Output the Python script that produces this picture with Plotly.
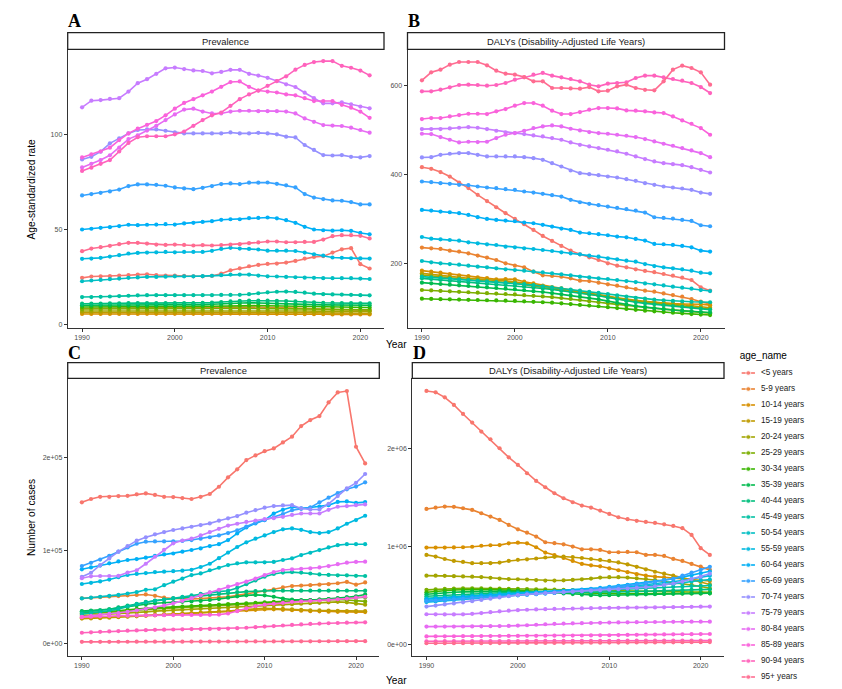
import plotly.graph_objects as go

years = list(range(1990, 2022))
age_names = ["<5 years", "5-9 years", "10-14 years", "15-19 years", "20-24 years",
             "25-29 years", "30-34 years", "35-39 years", "40-44 years", "45-49 years",
             "50-54 years", "55-59 years", "60-64 years", "65-69 years", "70-74 years",
             "75-79 years", "80-84 years", "85-89 years", "90-94 years", "95+ years"]
age_colors = ["#F8766D", "#EA8331", "#D89000", "#C09B00", "#A3A500", "#7CAE00", "#39B600",
              "#00BB4E", "#00BF7D", "#00C1A3", "#00BFC4", "#00BAE0", "#00B0F6", "#35A2FF",
              "#9590FF", "#C77CFF", "#E76BF3", "#FA62DB", "#FF62BC", "#FF6C91"]
strip_titles = ["Prevalence", "DALYs (Disability-Adjusted Life Years)",
                "Prevalence", "DALYs (Disability-Adjusted Life Years)"]
panel_letters = ["A", "B", "C", "D"]
x_ticks = [1990, 2000, 2010, 2020]
a_ticks = [0, 50, 100]
a_ticktext = ["0", "50", "100"]
b_ticks = [200, 400, 600]
b_ticktext = ["200", "400", "600"]
c_ticks = [0, 100000, 200000]
c_ticktext = ["0e+00", "1e+05", "2e+05"]
d_ticks = [0, 1000000, 2000000]
d_ticktext = ["0e+00", "1e+06", "2e+06"]

# ---------- Panel A: prevalence, age-standardized rate ----------
a_lt5 = [24.6,25.3,25.4,25.5,25.8,26.0,26.3,26.5,26.1,25.8,25.8,25.6,25.4,25.4,25.6,26.8,28.6,29.6,30.7,31.4,31.9,32.1,32.6,33.5,34.7,35.6,36.0,37.9,39.6,40.2,31.8,29.5]
a_5 = [8.5,8.6,8.6,8.7,8.7,8.8,8.8,8.9,8.9,8.9,9.0,9.0,9.0,9.0,9.1,9.1,9.2,9.2,9.3,9.3,9.2,9.0,8.8,8.6,8.4,8.2,8.0,7.9,7.8,7.7,7.6,7.5]
a_10 = [5.6,5.6,5.6,5.6,5.6,5.6,5.6,5.7,5.7,5.7,5.7,5.7,5.7,5.7,5.7,5.7,5.8,5.8,5.8,5.8,5.7,5.7,5.6,5.6,5.5,5.5,5.5,5.4,5.4,5.4,5.4,5.4]
a_15 = [6.4,6.4,6.4,6.4,6.4,6.5,6.5,6.5,6.5,6.5,6.5,6.5,6.5,6.5,6.5,6.5,6.6,6.6,6.6,6.6,6.5,6.5,6.4,6.4,6.3,6.2,6.2,6.1,6.1,6.0,6.0,6.0]
a_20 = [7.2,7.2,7.2,7.2,7.3,7.3,7.3,7.3,7.3,7.3,7.3,7.3,7.3,7.3,7.4,7.4,7.5,7.5,7.5,7.5,7.4,7.4,7.3,7.3,7.2,7.1,7.1,7.1,7.0,7.0,7.0,7.0]
a_25 = [8.2,8.2,8.2,8.2,8.3,8.3,8.3,8.3,8.3,8.3,8.3,8.4,8.4,8.4,8.5,8.5,8.6,8.6,8.6,8.6,8.5,8.5,8.4,8.3,8.2,8.1,8.0,8.0,7.9,7.9,7.8,7.8]
a_30 = [9.3,9.3,9.3,9.3,9.4,9.4,9.4,9.4,9.4,9.4,9.5,9.5,9.5,9.6,9.7,9.8,10.0,10.1,10.1,10.0,9.9,9.8,9.6,9.5,9.4,9.3,9.2,9.2,9.1,9.1,9.0,9.0]
a_35 = [10.2,10.2,10.2,10.2,10.3,10.3,10.3,10.3,10.3,10.3,10.3,10.3,10.4,10.5,10.7,10.9,11.2,11.5,11.5,11.4,11.2,11.0,10.8,10.7,10.6,10.5,10.4,10.4,10.3,10.3,10.2,10.2]
a_40 = [11.0,11.1,11.1,11.2,11.2,11.3,11.3,11.3,11.3,11.3,11.3,11.3,11.3,11.4,11.6,11.9,12.2,12.5,12.6,12.6,12.6,12.5,12.4,12.2,11.9,11.7,11.5,11.4,11.3,11.3,11.2,11.2]
a_45 = [14.5,14.5,14.6,14.8,15.0,15.2,15.4,15.5,15.5,15.5,15.5,15.5,15.5,15.5,15.5,15.6,15.6,15.7,16.0,16.5,17.0,17.3,17.4,17.2,16.8,16.3,16.0,15.9,15.8,15.7,15.5,15.4]
a_50 = [22.8,23.2,23.5,23.9,24.2,24.6,24.8,25.1,25.1,25.2,25.4,25.4,25.4,25.5,25.7,26.0,26.3,26.3,26.3,25.8,25.4,25.3,25.1,24.9,24.7,24.6,24.4,24.4,24.4,24.4,24.2,24.0]
a_55 = [34.6,34.7,35.1,35.8,36.5,37.4,37.7,37.9,38.0,38.2,38.0,38.2,38.2,38.2,38.8,39.8,40.4,40.0,39.8,39.5,38.9,38.9,38.9,38.7,37.9,37.0,36.3,35.3,35.1,34.9,34.8,34.7]
a_60 = [50.0,50.4,50.9,51.2,51.8,52.5,52.3,52.5,52.6,52.8,52.6,53.2,53.5,54.0,54.4,55.1,55.4,55.4,56.0,56.1,56.3,55.9,54.9,53.5,51.4,50.0,49.6,49.4,49.6,49.3,48.2,47.5]
a_65 = [67.9,68.6,69.3,70.0,71.0,72.8,73.7,73.7,73.5,73.0,72.1,71.6,71.2,71.9,72.8,73.9,74.2,73.9,74.6,74.6,74.7,74.0,73.2,72.1,68.6,66.8,66.0,65.3,65.1,64.4,63.2,63.2]
a_70 = [86.8,88.2,90.9,95.3,97.9,100.5,102.3,102.6,102.6,101.9,101.0,100.5,100.5,100.5,100.5,100.5,101.0,100.5,100.5,100.8,100.5,100.0,98.8,98.4,94.4,91.8,89.1,88.9,89.1,88.2,87.9,88.6]
a_75 = [114.2,117.7,118.0,118.6,119.0,122.5,126.9,129.0,131.8,134.7,135.1,134.3,133.6,133.3,132.1,132.8,133.9,133.9,131.8,130.9,129.7,128.0,126.3,124.9,121.9,119.0,116.3,116.3,116.8,115.8,114.6,113.7]
a_80 = [82.6,84.5,86.5,89.0,93.0,97.5,99.5,102.0,104.5,107.5,110.5,113.0,113.5,112.0,111.0,111.0,112.0,112.4,112.4,112.2,112.2,112.2,112.0,111.0,108.4,106.6,104.9,104.6,104.4,103.5,102.3,100.9]
a_85 = [87.9,89.5,91.0,93.0,97.0,100.5,103.0,105.0,107.0,110.0,113.5,116.5,118.5,120.5,122.5,125.0,127.5,127.8,125.0,123.0,122.5,122.0,121.0,120.5,119.0,117.5,117.5,117.5,115.5,114.0,112.0,108.7]
a_90 = [80.8,82.5,84.5,86.5,91.0,95.5,98.5,99.0,99.0,99.0,100.0,101.5,104.5,107.5,110.0,111.5,115.0,118.5,121.0,123.0,125.5,128.0,130.5,134.0,136.5,138.0,138.5,138.5,136.0,135.0,133.5,131.0]
a_95 = [38.6,40.0,40.7,41.4,42.3,43.0,43.0,42.6,42.1,41.9,42.1,41.9,41.6,41.8,41.6,41.8,42.1,42.3,42.8,43.2,43.7,43.7,43.3,43.3,43.5,43.5,44.7,46.5,47.0,47.0,46.7,45.3]

# ---------- Panel B: DALYs, age-standardized rate ----------
b_lt5 = [416.0,412.4,405.0,395.0,381.6,369.0,354.0,340.0,326.0,312.6,300.0,288.0,275.0,261.5,250.3,239.0,228.5,220.3,213.5,207.5,200.0,194.7,191.0,186.5,182.9,180.0,176.0,172.2,167.7,162.5,146.0,138.5]
b_5 = [235.3,233.8,232.3,228.5,226.3,222.5,217.3,212.8,207.5,200.0,194.7,191.0,181.2,173.0,171.5,170.0,166.2,161.0,160.2,156.5,152.7,149.7,146.0,142.2,138.5,136.2,132.4,128.7,125.0,119.7,113.7,108.5]
b_10 = [183.5,181.2,179.0,176.0,173.0,171.5,168.5,167.0,164.0,164.5,164.0,158.7,155.0,149.7,146.0,143.7,140.0,136.2,132.4,128.7,125.0,121.2,116.0,114.5,113.0,112.2,110.0,109.5,108.7,108.7,108.0,106.0]
b_15 = [177.4,175.0,172.5,170.5,168.5,166.5,165.0,163.0,161.5,160.7,158.7,155.5,151.5,148.5,145.5,142.5,139.5,136.5,133.5,130.5,126.5,122.7,119.0,116.7,114.5,113.0,111.5,109.2,107.0,104.7,102.5,100.2]
b_20 = [173.7,171.5,169.5,167.5,165.5,163.5,161.5,160.0,158.5,157.0,155.5,152.0,148.5,145.5,142.5,139.5,136.5,133.5,130.5,127.5,124.0,120.5,117.0,114.5,112.0,110.0,108.0,106.0,104.0,102.0,100.0,97.2]
b_25 = [140.0,139.0,138.0,137.0,136.0,135.0,134.0,133.0,132.0,131.0,130.0,128.5,127.0,125.5,124.0,122.0,120.0,117.5,115.0,112.5,110.0,107.5,105.0,103.0,101.0,99.0,97.0,95.0,93.0,91.0,89.5,88.0]
b_30 = [120.5,120.0,119.5,119.0,118.5,118.0,117.5,117.0,116.5,116.0,115.5,114.5,113.5,112.5,111.5,110.0,108.5,106.5,105.0,103.5,101.5,99.5,97.5,95.5,93.5,92.0,90.5,89.0,87.5,86.0,84.8,83.7]
b_35 = [156.5,155.0,153.5,152.0,150.5,149.0,147.5,146.0,144.5,143.0,141.5,139.5,137.5,135.5,133.0,130.5,128.0,125.0,122.0,119.0,115.0,111.0,107.0,104.0,101.5,99.0,97.0,95.0,93.5,92.0,90.5,89.5]
b_40 = [166.2,164.5,162.5,160.5,158.5,157.0,155.5,154.0,152.5,151.0,149.5,147.5,145.5,143.5,141.0,138.5,136.0,133.0,130.0,127.0,123.0,119.0,115.5,112.5,110.0,108.0,106.0,104.0,102.0,100.0,98.0,96.0]
b_45 = [170.0,168.5,167.0,165.5,164.0,162.5,161.0,159.5,158.0,156.5,155.0,153.5,151.0,148.5,146.0,143.5,141.0,138.5,136.0,133.5,131.0,128.0,125.0,122.5,120.5,118.5,117.0,115.5,114.5,113.5,113.0,112.5]
b_50 = [205.2,202.2,199.9,198.4,196.9,194.7,192.4,190.9,188.7,186.4,184.9,183.4,181.2,179.7,177.4,175.2,172.9,169.9,168.4,166.2,164.7,162.4,160.2,157.9,154.9,152.7,150.4,147.4,145.2,142.9,139.9,137.7]
b_55 = [259.2,255.4,253.9,252.4,250.9,247.2,244.9,242.7,241.2,237.4,235.9,233.7,232.2,229.9,227.7,224.7,222.4,220.2,217.2,214.9,211.2,208.9,205.9,203.7,198.4,193.9,190.9,188.7,186.4,183.4,178.9,177.4]
b_60 = [320.1,318.6,316.3,314.8,312.6,308.8,303.6,299.8,297.6,296.1,294.6,291.6,290.1,286.4,282.6,278.1,275.1,269.1,267.6,265.4,263.1,260.1,258.5,254.8,251.0,243.5,242.8,241.3,239.0,236.0,228.5,226.3]
b_65 = [383.9,382.4,380.1,378.6,376.4,375.6,372.6,370.4,368.9,366.6,365.1,361.4,359.1,356.1,353.1,350.1,342.6,337.3,333.6,330.6,327.6,324.6,321.6,318.6,314.0,303.5,302.0,300.5,297.5,295.3,285.5,283.3]
b_70 = [437.9,438.6,443.9,446.2,447.7,447.7,443.9,440.2,440.2,440.2,440.2,438.6,436.4,432.6,425.1,417.6,408.6,402.6,400.4,398.1,395.1,392.9,389.1,385.4,380.1,376.4,372.6,370.4,368.1,365.1,359.1,356.1]
b_75 = [501.7,501.7,501.7,503.2,504.7,506.2,504.7,501.7,497.9,494.2,492.7,490.4,487.4,485.2,481.4,477.7,471.7,466.4,462.7,458.9,455.2,451.4,446.2,440.2,434.2,428.9,425.1,422.9,420.6,416.1,410.1,404.1]
b_80 = [491.2,490.4,483.7,477.7,471.7,473.2,472.4,473.2,481.4,488.9,492.7,497.9,503.9,507.7,509.9,507.7,502.4,498.7,494.9,492.7,491.2,488.9,486.7,483.7,479.2,473.9,468.7,464.2,458.9,453.7,447.7,438.6]
b_85 = [524.2,526.5,526.5,530.2,533.2,536.2,536.2,535.5,541.5,546.7,554.2,560.2,560.2,554.2,543.0,535.5,535.5,540.0,545.2,549.0,549.0,548.2,543.7,543.0,541.5,539.2,537.7,530.2,521.2,513.7,503.9,488.9]
b_90 = [586.5,586.5,590.2,595.5,600.8,601.5,600.8,599.2,600.8,605.3,612.8,618.0,624.0,627.8,621.8,618.0,614.3,609.0,601.5,597.7,603.8,605.3,606.8,616.5,621.8,621.8,618.0,614.3,610.5,605.3,596.2,582.7]
b_95 = [611.3,629.3,635.3,646.5,652.5,652.5,652.5,645.0,633.0,626.3,624.0,618.8,609.0,609.0,594.0,594.0,593.0,592.5,596.0,586.5,588.0,597.7,601.5,594.0,590.0,588.7,609.0,635.3,644.3,639.0,629.3,601.5]

# ---------- Panel C: prevalence, number of cases ----------
c_lt5 = [152000,155600,158000,158000,158800,159000,160600,161600,160000,158000,157700,156600,155600,158000,161000,168800,178900,187500,197500,202500,207000,210000,216500,222600,234000,240500,244800,259500,270200,271700,211800,193900]
c_5 = [48800,49300,50000,50700,51200,52000,52400,53000,51500,49500,48700,48300,48200,48500,49000,49800,50500,52000,53500,55000,56500,58500,60500,62000,62500,63000,63500,64000,65000,66500,63500,65900]
c_10 = [28000,28200,28500,28800,29000,29500,30000,30500,31000,31500,32000,32500,33000,33500,34000,34500,35000,35500,36000,36500,37000,37000,36500,36000,35500,35000,34800,34500,34300,34200,34100,34000]
c_15 = [27000,27200,27500,28000,28500,29000,29500,30000,30500,31000,31500,32000,32500,33000,33500,34000,35000,36000,37000,37500,38000,37800,37500,37000,36500,36000,35800,35600,35400,35200,35000,35000]
c_20 = [30000,30500,31000,31500,32000,32800,33500,34200,35000,35500,36000,36500,37000,37500,38000,38500,39000,39500,40000,40500,41000,41500,42000,42500,43000,43500,44000,44500,45000,44500,43000,42000]
c_25 = [32000,32500,33000,33500,34000,35000,36000,37000,37500,38000,38500,39000,39500,40000,40500,41000,41500,42000,42500,43000,43500,44000,44500,45000,45500,46000,46500,47000,47500,47000,46000,45500]
c_30 = [33000,33500,34000,34500,35500,36500,37500,38000,38500,39000,39500,40000,40500,41000,41500,42000,42500,43000,43500,44000,44500,45000,45500,46000,46500,47000,47500,48000,48500,49000,49500,50000]
c_35 = [35000,35500,36000,37000,38500,40000,41500,42500,43500,44000,44500,45000,45500,46000,47000,48000,49500,51000,52000,52500,52000,50500,48500,47500,47000,47000,47500,48000,49000,50000,51000,53000]
c_40 = [34000,35000,36000,37000,39000,41000,43000,45000,46500,47500,48500,49500,50500,51500,52500,53500,54500,55500,56000,56500,57000,57000,57000,57000,57000,57000,57000,57000,57000,57000,57000,57000]
c_45 = [32000,33000,34000,35500,37500,40000,42500,44500,46000,47500,49000,50500,52000,53500,55000,56000,57000,60000,64000,68000,72000,75000,76500,77000,76500,75500,74500,74000,73500,73500,73000,72800]
c_50 = [48700,49500,50500,51500,52500,54000,55500,58000,58500,63000,66700,70000,73800,75600,79000,81700,84600,86400,87500,87500,87500,88000,90000,91800,95300,97800,100700,103600,106000,107000,107000,107000]
c_55 = [64200,65500,67000,69000,71500,73900,75000,76000,77000,77500,78000,78500,79500,82500,86000,92000,98000,104000,109000,113000,116500,120000,123000,124000,122500,120000,119000,120000,124000,129000,133000,137600]
c_60 = [80000,82000,84000,86500,88500,90000,91000,92500,94500,96000,97000,99000,100800,102500,105000,107000,111500,118600,125000,129400,133000,140000,144000,147000,145500,146500,147500,149000,152500,153000,151500,152300]
c_65 = [83500,87000,90500,94500,99000,103500,107500,109700,110000,110000,110000,110500,111500,113000,114500,116500,119000,122000,126000,130000,133000,136000,139500,143500,145000,146500,152000,157000,162000,166000,169000,173500]
c_70 = [72000,76300,84500,91700,99000,105000,110800,114400,117600,120000,122300,124000,125800,127600,129400,132300,134800,137300,140900,143700,146300,148000,148700,149000,145500,144400,144400,150500,158800,167000,173000,182500]
c_75 = [70500,72500,72800,72800,73000,76500,79000,86000,93500,101000,108000,111000,113000,116500,120000,123500,127000,129000,131000,132500,134000,135000,136500,138500,140000,140000,140000,144000,147300,148000,149000,149800]
c_80 = [29000,30000,31000,32000,33000,34400,36000,37500,39000,41000,43400,46000,49000,52000,55200,58000,61300,64000,66700,70000,73800,77000,79200,80000,80500,81000,82000,83500,85500,87100,88000,88200]
c_85 = [28500,29000,29500,29800,30000,30200,30400,30500,30600,30700,30800,30900,31000,31000,31100,31300,32500,35000,38000,40500,42000,43000,44000,45000,45500,46000,46500,47000,47800,48500,49500,50500]
c_90 = [11800,12300,12800,13200,13600,14000,14300,14600,14900,15100,15300,15500,15700,15800,15900,16000,16300,16700,17200,17800,18400,19000,19600,20200,20800,21300,21700,22000,22300,22600,22800,23000]
c_95 = [2000,2000,2050,2050,2100,2100,2150,2150,2200,2200,2250,2250,2300,2300,2350,2350,2400,2400,2450,2450,2500,2500,2550,2550,2600,2600,2650,2650,2700,2700,2750,2750]

# ---------- Panel D: DALYs, number ----------
d_lt5 = [2585000,2571000,2520000,2442000,2350000,2262000,2170000,2092000,2000000,1908000,1830000,1745000,1667000,1602000,1541000,1490000,1449000,1415000,1395000,1364000,1330000,1296000,1276000,1259000,1248000,1238000,1224000,1207000,1184000,1116000,980000,912000]
d_5 = [1381000,1395000,1405000,1402000,1388000,1371000,1337000,1303000,1269000,1218000,1173000,1139000,1099000,1041000,1031000,1020000,997000,969000,969000,963000,939000,939000,942000,939000,912000,912000,901000,871000,850000,820000,793000,759000]
d_10 = [986000,986000,986000,988000,990000,995000,1005000,1010000,1012000,1030000,1037000,1030000,990000,935000,910000,880000,850000,820000,805000,795000,775000,755000,735000,715000,700000,690000,682000,674000,666000,658000,650000,645000]
d_15 = [912000,895000,870000,850000,840000,827000,827000,827000,833000,850000,861000,867000,875000,885000,892000,895000,890000,880000,870000,860000,850000,835000,815000,790000,765000,740000,720000,700000,680000,660000,635000,610000]
d_20 = [700000,700000,698000,695000,692000,690000,685000,678000,670000,665000,663000,660000,655000,650000,650000,652000,656000,662000,670000,680000,684000,684000,680000,673000,665000,655000,640000,630000,620000,605000,590000,571000]
d_25 = [555000,560000,565000,568000,570000,570000,570000,569000,568000,566000,565000,563000,561000,559000,557000,555000,553000,551000,550000,549000,548000,546000,544000,542000,540000,538000,536000,535000,534000,533000,532000,531000]
d_30 = [530000,540000,548000,553000,556000,558000,558000,557000,555000,553000,550000,547000,543000,539000,535000,531000,527000,523000,520000,518000,517000,516000,516000,516000,516000,517000,517000,518000,518000,519000,519000,520000]
d_35 = [510000,518000,525000,530000,534000,537000,539000,540000,540000,540000,539000,537000,534000,530000,525000,519000,512000,505000,500000,499000,500000,502000,505000,507000,509000,511000,513000,515000,517000,518000,519000,520000]
d_40 = [490000,495000,500000,505000,510000,514000,518000,522000,525000,527000,529000,530000,531000,532000,533000,533000,533000,532000,531000,531000,532000,534000,536000,538000,541000,544000,547000,550000,553000,556000,558000,560000]
d_45 = [470000,476000,482000,488000,494000,499000,504000,509000,513000,517000,520000,523000,526000,529000,532000,535000,538000,541000,544000,547000,551000,556000,561000,566000,571000,576000,581000,586000,590000,594000,597000,600000]
d_50 = [445000,452000,459000,466000,473000,480000,486000,492000,498000,504000,509000,514000,519000,524000,529000,534000,539000,545000,551000,557000,564000,571000,578000,585000,592000,599000,606000,613000,626000,640000,650000,660000]
d_55 = [430000,437000,444000,451000,458000,465000,472000,479000,486000,493000,499000,505000,511000,517000,523000,529000,535000,542000,550000,558000,567000,577000,587000,597000,607000,617000,627000,637000,650000,665000,683000,700000]
d_60 = [460000,466000,472000,478000,484000,490000,496000,502000,508000,513000,518000,523000,528000,533000,539000,545000,551000,558000,566000,575000,585000,596000,607000,618000,630000,642000,655000,668000,685000,705000,725000,745000]
d_65 = [440000,446000,452000,458000,464000,470000,476000,482000,488000,494000,500000,506000,512000,518000,525000,532000,540000,548000,557000,566000,576000,587000,598000,610000,623000,637000,652000,668000,700000,730000,760000,790000]
d_70 = [384000,395000,406000,417000,428000,440000,452000,465000,478000,490000,502000,510000,516000,522000,527000,532000,537000,542000,547000,552000,557000,562000,568000,575000,583000,592000,605000,620000,640000,665000,690000,720000]
d_75 = [306000,305000,304000,304000,305000,310000,318000,327000,336000,343000,348000,352000,355000,358000,360000,362000,364000,366000,368000,370000,371000,372000,373000,374000,375000,376000,377000,378000,380000,382000,383000,384000]
d_80 = [180000,180000,180000,180000,181000,182000,183000,184000,185000,187000,190000,194000,199000,204000,208000,211000,213000,215000,217000,219000,221000,223000,224000,225000,226000,227000,228000,229000,229000,230000,230000,230000]
d_85 = [80000,80500,81000,81500,82000,82500,83000,83500,84000,84500,85000,85500,86000,86500,87000,87500,88000,89000,90000,91000,92000,93500,95000,96500,98000,99000,100000,101000,102000,103000,104000,104500]
d_90 = [30000,30500,31000,31000,31500,31500,32000,32000,32500,32500,33000,33000,33500,33500,34000,34000,34500,34500,35000,35000,35500,35500,36000,36000,36500,36500,37000,37000,37500,37500,38000,38000]
d_95 = [10000,10200,10400,10600,10800,11000,11300,11600,11900,12200,12500,12800,13100,13400,13700,14000,14500,15000,15500,16000,16500,17000,17500,18000,18500,19000,19500,20000,20500,21000,21500,22000]

panel_a = [a_lt5, a_5, a_10, a_15, a_20, a_25, a_30, a_35, a_40, a_45, a_50, a_55, a_60, a_65, a_70, a_75, a_80, a_85, a_90, a_95]
panel_b = [b_lt5, b_5, b_10, b_15, b_20, b_25, b_30, b_35, b_40, b_45, b_50, b_55, b_60, b_65, b_70, b_75, b_80, b_85, b_90, b_95]
panel_c = [c_lt5, c_5, c_10, c_15, c_20, c_25, c_30, c_35, c_40, c_45, c_50, c_55, c_60, c_65, c_70, c_75, c_80, c_85, c_90, c_95]
panel_d = [d_lt5, d_5, d_10, d_15, d_20, d_25, d_30, d_35, d_40, d_45, d_50, d_55, d_60, d_65, d_70, d_75, d_80, d_85, d_90, d_95]

W, H = 842, 689
FONT = "Liberation Sans, Arial"


def fx(px):
    return px / W


def fy(py):
    return 1 - py / H


fig = go.Figure()

panels = [(panel_a, "x", "y"), (panel_b, "x2", "y2"), (panel_c, "x3", "y3"), (panel_d, "x4", "y4")]
for series_list, xa, ya in panels:
    for name, color, vals in zip(age_names, age_colors, series_list):
        fig.add_trace(go.Scatter(
            x=years, y=vals, mode="lines+markers", name=name,
            line=dict(color=color, width=1.6),
            marker=dict(color=color, size=4.2),
            xaxis=xa, yaxis=ya, showlegend=False))

# legend drawn on its own small axis pair
leg_idx = list(range(len(age_names)))
for i, (name, color) in enumerate(zip(age_names, age_colors)):
    fig.add_trace(go.Scatter(
        x=[0, 0.5, 1], y=[leg_idx[i]] * 3, mode="lines+markers",
        line=dict(color=color, width=1.6),
        marker=dict(color=color, size=[0, 5, 0]),
        xaxis="x5", yaxis="y5", showlegend=False, hoverinfo="skip"))
fig.add_trace(go.Scatter(
    x=[1.45] * len(age_names), y=leg_idx, text=age_names, mode="text",
    textposition="middle right",
    textfont=dict(family=FONT, size=8.2, color="#1a1a1a"),
    xaxis="x5", yaxis="y5", showlegend=False, hoverinfo="skip"))
fig.add_trace(go.Scatter(
    x=[-0.15], y=[-1.05], text=["age_name"], mode="text",
    textposition="middle right",
    textfont=dict(family=FONT, size=10, color="#000000"),
    xaxis="x5", yaxis="y5", showlegend=False, hoverinfo="skip"))

tick_font = dict(family=FONT, size=7, color="#4D4D4D")
axis_common = dict(showgrid=False, zeroline=False, showline=True, linecolor="#333333",
                   linewidth=1, ticks="outside", ticklen=3, tickcolor="#333333",
                   tickwidth=1, tickfont=tick_font)

doms = {
    "A": ([67.7, 384.0], [49.3, 327.7]),
    "B": ([407.5, 724.5], [49.3, 327.7]),
    "C": ([67.7, 379.3], [378.3, 656.0]),
    "D": ([412.3, 724.0], [378.3, 656.0]),
}
yinfo = {
    "A": ([-1.6, 144.7], a_ticks, a_ticktext),
    "B": ([55.3, 681.0], b_ticks, b_ticktext),
    "C": ([-13200, 285400], c_ticks, c_ticktext),
    "D": ([-120000, 2714000], d_ticks, d_ticktext),
}
layout_axes = {}
for k, key in enumerate(["A", "B", "C", "D"]):
    (x0, x1), (y0, y1) = doms[key]
    suffix = "" if k == 0 else str(k + 1)
    layout_axes["xaxis" + suffix] = dict(
        axis_common, domain=[fx(x0), fx(x1)], range=[1988.45, 2022.55],
        tickvals=x_ticks, ticktext=[str(t) for t in x_ticks],
        anchor="y" + suffix)
    rng, tv, tt = yinfo[key]
    layout_axes["yaxis" + suffix] = dict(
        axis_common, domain=[fy(y1), fy(y0)], range=rng,
        tickvals=tv, ticktext=tt, anchor="x" + suffix)

layout_axes["xaxis5"] = dict(domain=[fx(735), 1.0], range=[-0.5, 7.54], visible=False,
                             anchor="y5", fixedrange=True)
layout_axes["yaxis5"] = dict(domain=[0.0, fy(340)], range=[19.75, -2.0625], visible=False,
                             anchor="x5", fixedrange=True)

shapes = []
annotations = []
strip_px = {
    "A": ([67.7, 384.0], [32.7, 49.3]),
    "B": ([407.5, 724.5], [32.7, 49.3]),
    "C": ([67.7, 379.3], [362.7, 378.3]),
    "D": ([412.3, 724.0], [362.7, 378.3]),
}
letter_px = {"A": (66, 21), "B": (406, 21), "C": (66, 353), "D": (411, 353)}
for key, title, letter in zip(["A", "B", "C", "D"], strip_titles, panel_letters):
    (sx0, sx1), (sy0, sy1) = strip_px[key]
    shapes.append(dict(type="rect", xref="paper", yref="paper",
                       x0=fx(sx0), x1=fx(sx1), y0=fy(sy1), y1=fy(sy0),
                       line=dict(color="#222222", width=1.3), fillcolor="white"))
    annotations.append(dict(text=title, xref="paper", yref="paper",
                            x=fx((sx0 + sx1) / 2), y=fy((sy0 + sy1) / 2),
                            showarrow=False, xanchor="center", yanchor="middle",
                            font=dict(family=FONT, size=9.4, color="#1A1A1A")))
    lx, ly = letter_px[key]
    annotations.append(dict(text="<b>%s</b>" % letter, xref="paper", yref="paper",
                            x=fx(lx), y=fy(ly), showarrow=False,
                            xanchor="left", yanchor="middle",
                            font=dict(family="Liberation Serif, Times New Roman", size=18, color="#000000")))

annotations.append(dict(text="Age-standardized rate", xref="paper", yref="paper",
                        x=fx(31), y=fy(188.5), textangle=-90, showarrow=False,
                        xanchor="center", yanchor="middle",
                        font=dict(family=FONT, size=10.2, color="#000000")))
annotations.append(dict(text="Number of cases", xref="paper", yref="paper",
                        x=fx(31), y=fy(517), textangle=-90, showarrow=False,
                        xanchor="center", yanchor="middle",
                        font=dict(family=FONT, size=10.2, color="#000000")))
annotations.append(dict(text="Year", xref="paper", yref="paper",
                        x=fx(384), y=fy(344), showarrow=False,
                        xanchor="left", yanchor="middle",
                        font=dict(family=FONT, size=10.2, color="#000000")))
annotations.append(dict(text="Year", xref="paper", yref="paper",
                        x=fx(384), y=fy(680), showarrow=False,
                        xanchor="left", yanchor="middle",
                        font=dict(family=FONT, size=10.2, color="#000000")))

fig.update_layout(
    width=W, height=H, margin=dict(l=0, r=0, t=0, b=0),
    paper_bgcolor="white", plot_bgcolor="white",
    showlegend=False, shapes=shapes, annotations=annotations,
    font=dict(family=FONT),
    **layout_axes)

fig.write_html("out.html", config={"displayModeBar": False},
               post_script="document.body.style.margin='0';")
